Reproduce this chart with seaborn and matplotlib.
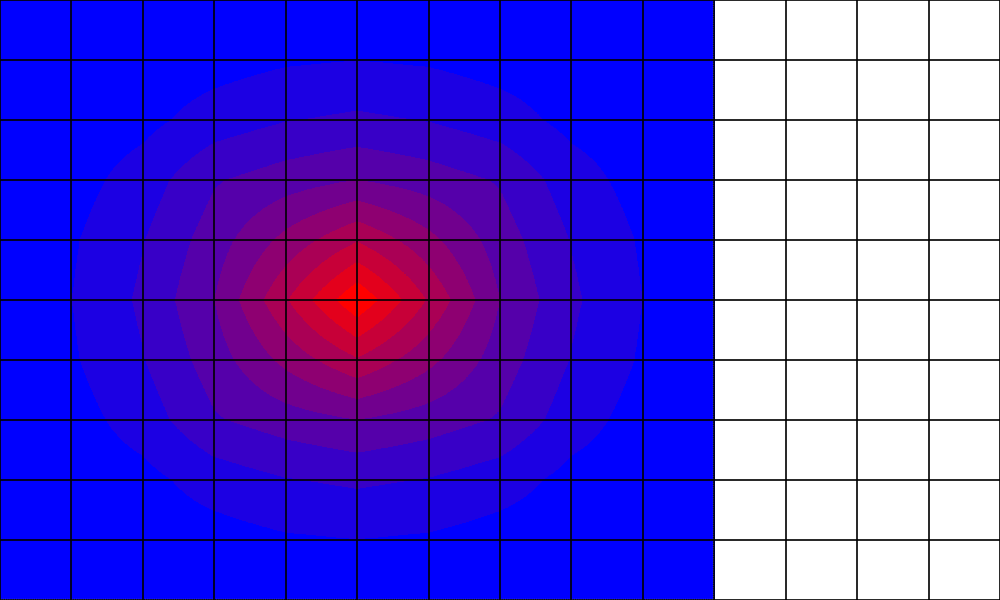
import numpy as np
import matplotlib
matplotlib.use("Agg")
import matplotlib.pyplot as plt
from matplotlib.colors import ListedColormap, BoundaryNorm
from matplotlib.patches import Rectangle
import seaborn as sns

# valores nos nós da grade (11 x 11), pico no nó central
linha_0 = [0.10, 0.15, 0.20, 0.30, 0.38, 0.40, 0.38, 0.30, 0.20, 0.15, 0.10]
linha_1 = [0.15, 0.25, 0.42, 0.58, 0.87, 0.99, 0.87, 0.58, 0.42, 0.25, 0.15]
linha_2 = [0.20, 0.42, 0.70, 1.45, 1.95, 2.18, 1.95, 1.45, 0.70, 0.42, 0.20]
linha_3 = [0.30, 0.58, 1.45, 2.90, 3.50, 4.00, 3.50, 2.90, 1.45, 0.58, 0.30]
linha_4 = [0.38, 0.87, 1.95, 3.50, 5.30, 6.90, 5.30, 3.50, 1.95, 0.87, 0.38]
linha_5 = [0.40, 0.99, 2.18, 4.00, 6.90, 9.88, 6.90, 4.00, 2.18, 0.99, 0.40]
valores = [linha_0, linha_1, linha_2, linha_3, linha_4, linha_5,
           linha_4, linha_3, linha_2, linha_1, linha_0]
niveis = list(range(11))

sns.set_theme(style="white")

cores = sns.blend_palette(["#0000ff", "#ff0000"], 10)
cmap = ListedColormap(cores)
norm = BoundaryNorm(niveis, cmap.N, clip=True)

fig = plt.figure(figsize=(10, 6), dpi=100)
ax = fig.add_axes([0, 0, 1, 1])

img = ax.imshow(np.array(valores), cmap=cmap, norm=norm,
                interpolation="bilinear", interpolation_stage="data",
                extent=(-0.5, 10.5, 10.5, -0.5), zorder=1)
clip = Rectangle((0, 0), 10, 10, transform=ax.transData)
img.set_clip_path(clip)

# borda pontilhada da imagem
ax.plot([9.98, 9.98], [0, 10], color="white", lw=0.8, ls=(0, (1, 1)), zorder=2)
ax.plot([0, 10], [9.99, 9.99], color="white", lw=0.8, ls=(0, (1, 1)), zorder=2)

ax.set_xlim(0, 14)
ax.set_ylim(10, 0)
ax.set_aspect("auto")
ax.set_xticks(range(15))
ax.set_yticks(range(11))
ax.grid(True, color="black", lw=1.2)
ax.set_axisbelow(False)
ax.tick_params(length=0, labelbottom=False, labelleft=False)
for s in ax.spines.values():
    s.set_visible(False)

fig.savefig("out.png", dpi=100)
